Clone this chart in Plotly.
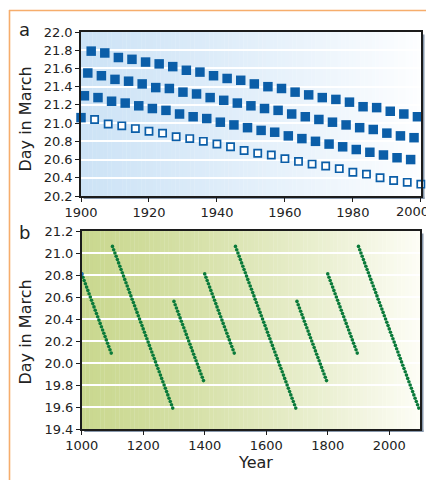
import plotly.graph_objects as go

# ---------------- Panel a data (March equinox, 1900-2000) ----------------
years_a3 = list(range(1903, 2000, 4))
day_a3 = [21.79, 21.77, 21.72, 21.70, 21.67, 21.65, 21.62, 21.58, 21.56, 21.52,
          21.49, 21.47, 21.43, 21.40, 21.38, 21.34, 21.31, 21.28, 21.26, 21.23,
          21.18, 21.17, 21.13, 21.10, 21.07]
years_a2 = list(range(1902, 1999, 4))
day_a2 = [21.55, 21.52, 21.48, 21.46, 21.43, 21.39, 21.38, 21.34, 21.32, 21.28,
          21.25, 21.22, 21.19, 21.16, 21.14, 21.10, 21.07, 21.04, 21.01, 20.98,
          20.95, 20.93, 20.89, 20.86, 20.84]
years_a1 = list(range(1901, 1998, 4))
day_a1 = [21.30, 21.28, 21.24, 21.22, 21.19, 21.16, 21.14, 21.10, 21.07, 21.05,
          21.01, 20.98, 20.95, 20.92, 20.90, 20.86, 20.83, 20.80, 20.77, 20.74,
          20.71, 20.68, 20.65, 20.62, 20.60]
years_a0 = list(range(1900, 2001, 4))
day_a0 = [21.06, 21.04, 20.99, 20.97, 20.94, 20.91, 20.89, 20.85, 20.83, 20.80,
          20.77, 20.74, 20.70, 20.67, 20.65, 20.61, 20.58, 20.55, 20.53, 20.50,
          20.46, 20.44, 20.40, 20.37, 20.35, 20.33]

# ---------------- Panel b data (1000-2100) ----------------
years_b1000 = list(range(1000, 1100, 4))
day_b1000 = [20.81, 20.78, 20.75, 20.72, 20.69, 20.66, 20.63, 20.60, 20.57, 20.54,
             20.51, 20.48, 20.45, 20.42, 20.39, 20.36, 20.33, 20.30, 20.27, 20.24,
             20.21, 20.18, 20.15, 20.12, 20.09]
years_b1100 = list(range(1100, 1300, 4))
day_b1100 = [21.06, 21.03, 21.00, 20.97, 20.94, 20.91, 20.88, 20.85, 20.82, 20.79,
             20.76, 20.73, 20.70, 20.67, 20.64, 20.61, 20.58, 20.55, 20.52, 20.49,
             20.46, 20.43, 20.40, 20.37, 20.34, 20.31, 20.28, 20.25, 20.22, 20.19,
             20.16, 20.13, 20.10, 20.07, 20.04, 20.01, 19.98, 19.95, 19.92, 19.89,
             19.86, 19.83, 19.80, 19.77, 19.74, 19.71, 19.68, 19.65, 19.62, 19.59]
years_b1300 = list(range(1300, 1400, 4))
day_b1300 = [20.56, 20.53, 20.50, 20.47, 20.44, 20.41, 20.38, 20.35, 20.32, 20.29,
             20.26, 20.23, 20.20, 20.17, 20.14, 20.11, 20.08, 20.05, 20.02, 19.99,
             19.96, 19.93, 19.90, 19.87, 19.84]
years_b1400 = list(range(1400, 1500, 4))
day_b1400 = [20.81, 20.78, 20.75, 20.72, 20.69, 20.66, 20.63, 20.60, 20.57, 20.54,
             20.51, 20.48, 20.45, 20.42, 20.39, 20.36, 20.33, 20.30, 20.27, 20.24,
             20.21, 20.18, 20.15, 20.12, 20.09]
years_b1500 = list(range(1500, 1700, 4))
day_b1500 = [21.06, 21.03, 21.00, 20.97, 20.94, 20.91, 20.88, 20.85, 20.82, 20.79,
             20.76, 20.73, 20.70, 20.67, 20.64, 20.61, 20.58, 20.55, 20.52, 20.49,
             20.46, 20.43, 20.40, 20.37, 20.34, 20.31, 20.28, 20.25, 20.22, 20.19,
             20.16, 20.13, 20.10, 20.07, 20.04, 20.01, 19.98, 19.95, 19.92, 19.89,
             19.86, 19.83, 19.80, 19.77, 19.74, 19.71, 19.68, 19.65, 19.62, 19.59]
years_b1700 = list(range(1700, 1800, 4))
day_b1700 = [20.56, 20.53, 20.50, 20.47, 20.44, 20.41, 20.38, 20.35, 20.32, 20.29,
             20.26, 20.23, 20.20, 20.17, 20.14, 20.11, 20.08, 20.05, 20.02, 19.99,
             19.96, 19.93, 19.90, 19.87, 19.84]
years_b1800 = list(range(1800, 1900, 4))
day_b1800 = [20.81, 20.78, 20.75, 20.72, 20.69, 20.66, 20.63, 20.60, 20.57, 20.54,
             20.51, 20.48, 20.45, 20.42, 20.39, 20.36, 20.33, 20.30, 20.27, 20.24,
             20.21, 20.18, 20.15, 20.12, 20.09]
years_b1900 = list(range(1900, 2100, 4))
day_b1900 = [21.06, 21.03, 21.00, 20.97, 20.94, 20.91, 20.88, 20.85, 20.82, 20.79,
             20.76, 20.73, 20.70, 20.67, 20.64, 20.61, 20.58, 20.55, 20.52, 20.49,
             20.46, 20.43, 20.40, 20.37, 20.34, 20.31, 20.28, 20.25, 20.22, 20.19,
             20.16, 20.13, 20.10, 20.07, 20.04, 20.01, 19.98, 19.95, 19.92, 19.89,
             19.86, 19.83, 19.80, 19.77, 19.74, 19.71, 19.68, 19.65, 19.62, 19.59]

ticks_xa = [1900, 1920, 1940, 1960, 1980, 2000]
ticklabels_xa = ["1900", "1920", "1940", "1960", "1980", "2000"]
ticks_xb = [1000, 1200, 1400, 1600, 1800, 2000]

# ---------------- styling ----------------
OFF = 8                      # default page (body) margin of the html page
W, H = 434 - OFF, 480 - OFF  # figure size so that it exactly fills the window
BLUE = "#0b5ea8"
GREEN = "#0a7a3a"
TXT = "#222222"
FONT = "DejaVu Sans"

def px(xp):
    return (xp - OFF) / W

def py(yp):
    return 1 - (yp - OFF) / H

fig = go.Figure()

# Panel a
for yrs, days in [(years_a3, day_a3), (years_a2, day_a2), (years_a1, day_a1)]:
    fig.add_trace(go.Scatter(x=yrs, y=days, mode="markers", xaxis="x", yaxis="y",
                             cliponaxis=False, hoverinfo="skip",
                             marker=dict(symbol="square", size=9.5, color=BLUE, line=dict(width=0))))
fig.add_trace(go.Scatter(x=years_a0[:1], y=day_a0[:1], mode="markers", xaxis="x", yaxis="y",
                         cliponaxis=False, hoverinfo="skip",
                         marker=dict(symbol="square", size=9.5, color=BLUE, line=dict(width=0))))
fig.add_trace(go.Scatter(x=years_a0[1:], y=day_a0[1:], mode="markers", xaxis="x", yaxis="y",
                         cliponaxis=False, hoverinfo="skip",
                         marker=dict(symbol="square", size=7.2, color="white",
                                     line=dict(width=1.7, color=BLUE))))

# Panel b
for yrs, days in [(years_b1000, day_b1000), (years_b1100, day_b1100), (years_b1300, day_b1300),
                  (years_b1400, day_b1400), (years_b1500, day_b1500), (years_b1700, day_b1700),
                  (years_b1800, day_b1800), (years_b1900, day_b1900)]:
    fig.add_trace(go.Scatter(x=yrs, y=days, mode="markers", xaxis="x2", yaxis="y2",
                             cliponaxis=False, hoverinfo="skip",
                             marker=dict(symbol="circle", size=3.6, color=GREEN, line=dict(width=0))))
fig.add_trace(go.Scatter(x=years_b1000[:1], y=day_b1000[:1], mode="markers", xaxis="x2", yaxis="y2",
                         cliponaxis=False, hoverinfo="skip",
                         marker=dict(symbol="circle", size=4, color="#1f6fc0", line=dict(width=0))))

shapes = []

# gradient backgrounds (below gridlines)
def gradient(xref, yref, x0, x1, y0, y1, c0, c1, n, gamma):
    step = (x1 - x0) / n
    for i in range(n):
        t = ((i + 0.5) / n) ** gamma
        col = "rgb(%d,%d,%d)" % tuple(round(c0[k] + (c1[k] - c0[k]) * t) for k in range(3))
        a = x0 + i * step
        b = min(x1, a + step * 1.08)
        shapes.append(dict(type="rect", xref=xref, yref=yref, x0=a, x1=b, y0=y0, y1=y1,
                           fillcolor=col, line=dict(width=0), layer="below"))

gradient("x", "y", 1900, 2000, 20.2, 22.0, (205, 227, 246), (253, 254, 255), 90, 1.15)
gradient("x2", "y2", 1000, 2100, 19.4, 21.2, (202, 216, 144), (253, 253, 246), 90, 1.3)

# drop shadows right/bottom of plot frames
SH = "#8797ab"
for (l, t, r, b) in [(81, 32, 421, 196), (81.7, 231, 420, 429)]:
    shapes.append(dict(type="rect", xref="paper", yref="paper",
                       x0=px(r + 0.8), x1=px(r + 3.5), y0=py(b + 3), y1=py(t + 2.5),
                       fillcolor=SH, line=dict(width=0), layer="below"))
    shapes.append(dict(type="rect", xref="paper", yref="paper",
                       x0=px(l + 2.5), x1=px(r + 3.5), y0=py(b + 3), y1=py(b + 0.8),
                       fillcolor=SH, line=dict(width=0), layer="below"))

# orange frame (top and left)
OR = "#f6ad6c"
shapes.append(dict(type="line", xref="paper", yref="paper", x0=px(9), x1=1,
                   y0=py(10.5), y1=py(10.5), line=dict(color=OR, width=1.6)))
shapes.append(dict(type="line", xref="paper", yref="paper", x0=px(9.5), x1=px(9.5),
                   y0=py(10), y1=0, line=dict(color=OR, width=1.6)))

axis_common = dict(showline=True, linecolor="#1c1c1c", linewidth=1.5, mirror=True,
                   ticks="outside", ticklen=4, tickwidth=1.2, tickcolor="#1c1c1c",
                   tickfont=dict(family=FONT, size=13, color=TXT), zeroline=False,
                   automargin=False)

# last x tick label of panel a sits a bit to the left so it fits in the window
xa_text = ticklabels_xa[:-1] + [""]

fig.update_layout(
    width=W, height=H,
    margin=dict(l=0, r=0, t=0, b=0, pad=0, autoexpand=False),
    paper_bgcolor="white", plot_bgcolor="white",
    showlegend=False,
    shapes=shapes,
    xaxis=dict(domain=[px(81), px(421)], range=[1900, 2000.05], anchor="y",
               tickvals=ticks_xa, ticktext=xa_text, showgrid=False, **axis_common),
    yaxis=dict(domain=[py(196), py(32)], range=[20.2, 22.0], anchor="x",
               dtick=0.2, tick0=20.2, tickformat=".1f", showgrid=True,
               gridcolor="white", gridwidth=1.5, **axis_common),
    xaxis2=dict(domain=[px(81.7), px(420)], range=[1000, 2100], anchor="y2",
                tickvals=ticks_xb, showgrid=False, **axis_common),
    yaxis2=dict(domain=[py(429), py(231)], range=[19.4, 21.2], anchor="x2",
                dtick=0.2, tick0=19.4, tickformat=".1f", showgrid=True,
                gridcolor="white", gridwidth=1.5, **axis_common),
    annotations=[
        dict(text="a", x=px(24), y=py(30), xref="paper", yref="paper", showarrow=False,
             xanchor="center", yanchor="middle", font=dict(family=FONT, size=18, color=TXT)),
        dict(text="b", x=px(24), y=py(232), xref="paper", yref="paper", showarrow=False,
             xanchor="center", yanchor="middle", font=dict(family=FONT, size=18, color=TXT)),
        dict(text="Day in March", x=px(24.5), y=py(119), xref="paper", yref="paper",
             showarrow=False, textangle=-90, xanchor="center", yanchor="middle",
             font=dict(family=FONT, size=16, color=TXT)),
        dict(text="Day in March", x=px(24.5), y=py(332), xref="paper", yref="paper",
             showarrow=False, textangle=-90, xanchor="center", yanchor="middle",
             font=dict(family=FONT, size=16, color=TXT)),
        dict(text="Year", x=px(255), y=py(462), xref="paper", yref="paper", showarrow=False,
             xanchor="center", yanchor="middle", borderpad=0,
             font=dict(family=FONT, size=16, color=TXT)),
        dict(text=ticklabels_xa[-1], x=ticks_xa[-1], xref="x", y=py(196), yref="paper",
             xshift=-8, yshift=-6, showarrow=False, xanchor="center", yanchor="top",
             font=dict(family=FONT, size=13, color=TXT)),
    ],
)

fig.write_html("out.html")
